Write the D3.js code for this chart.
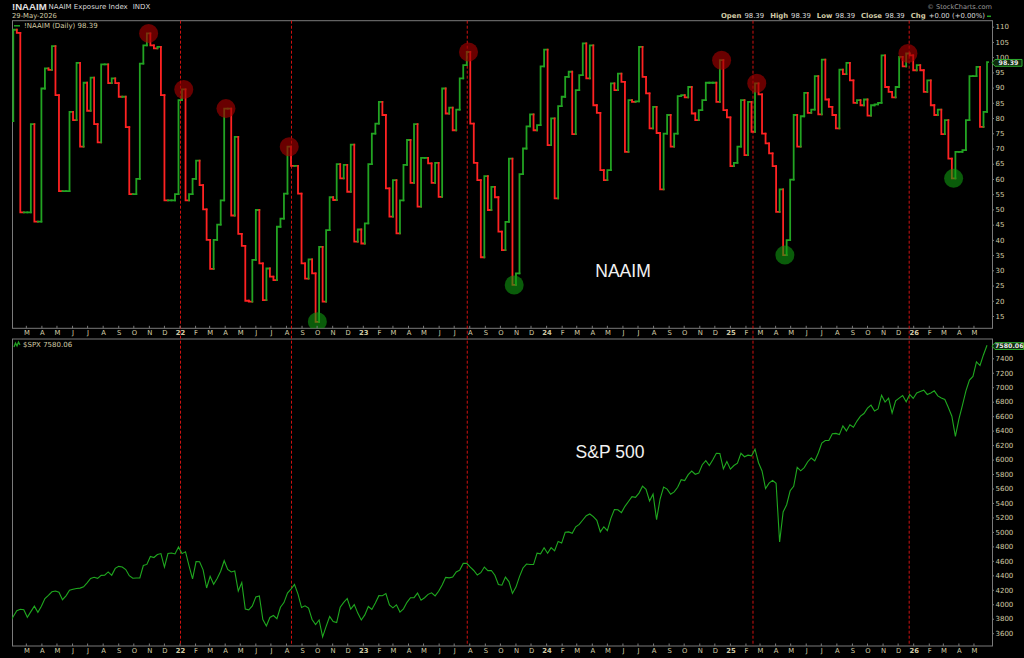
<!DOCTYPE html>
<html><head><meta charset="utf-8">
<script src="https://cdn.jsdelivr.net/npm/d3@7"></script>
<style>body{margin:0;background:#000;}svg{display:block;font-family:"DejaVu Sans",sans-serif;}</style>
</head><body>
<svg id="c" width="1024" height="658"></svg>
<script>
// ---------- DATA ----------
const firstWeek = "2021-01-27";          // weekly observations (Wednesdays)
const lastDay = "2026-05-29";
const naaim = [
79,109,108,49,49,49,78,46,46,89.7,96.3,95.8,103.6,87.5,56,56,56,82,79.3,98.1,
70.6,91.6,82.4,93.3,78,72,97.6,97.6,91.5,93,91.5,87,87,77,55,55,60,97.9,103.9,107.8,
103.9,102.9,103.4,87.5,53,53,53,55,85.9,89.4,53,55,60,66,58,50,40,30.5,40,45,
53,83.1,83.1,48,73.8,42,38,20,19.7,33.4,49.8,32.3,20.2,30.6,27.9,26.8,44.3,47,55.2,70.6,
64.3,64.3,55.2,32.3,27.3,33.6,29,13.1,37.7,19.7,43.2,54,53.1,64.9,60.2,64.6,55.8,71.3,39.4,43.4,
38.8,45.4,64.9,74.9,78.2,85.3,81,56.9,47.6,59.6,42.1,53,64.6,72.8,58.7,78,50.9,66.9,66.9,65.1,
58.7,65.3,54.1,89.7,81.5,83.4,76,82.8,93,97.4,101.7,78.2,65.3,59.6,34.3,60.9,49.8,57.4,54,42.7,
36.6,45.9,66.7,25.2,29,61.6,70,77.3,81.2,76,77.7,97,102.5,71.1,79.9,53.6,83.9,87,93.5,95.2,
74.7,89.2,94.1,104.5,93,103.9,84.2,81.7,62.9,59.6,62.9,91.4,89.2,94.6,91.9,68.9,85.9,85.3,85.5,103.4,
93.5,88.1,76.6,83.7,75.1,56.6,74.9,81,70.6,74.9,87.2,87.5,86.8,90.2,81.5,79.3,82.6,85.9,91.6,91.6,
91.6,85.3,99,82.6,80.2,64.2,65.3,70.6,85.9,67.8,85.3,75.5,91.4,87.8,74.9,71.7,68.4,64.2,49.2,56.6,
35,39.9,59.8,81,70.6,80.6,88.3,81.7,82.8,93.8,81.2,99.2,86.1,83.7,81,76.6,95.9,94.4,98.1,92.4,
85,85.9,84.2,86.1,80.8,84.2,84.5,85,100.6,90.2,88.6,86.8,90.2,100.1,97,101.2,100.6,95.7,97.4,95.7,
88.6,92.4,84.2,81,82.8,74.7,79.3,66.7,60.2,68.9,68.9,69.5,79.3,93.8,93.8,96.8,77.1,82,98.39
];
const spx = [
3750,3830,3910,3931,3925,3820,3898,3974,3889,3973,4080,4124,4173,4183,4167,4063,4116,4195,4208,4219,
4223,4241,4297,4358,4374,4358,4400,4402,4447,4400,4496,4524,4514,4480,4395,4359,4363,4364,4536,4551,
4660,4646,4688,4701,4513,4701,4709,4696,4793,
4700,4726,4532,4350,4589,4587,4475,4225,4386,4277,4357,4456,4602,4481,4446,4459,4183,4300,3935,3923,
3978,4101,4115,3789,3700,3818,3845,3801,3959,4023,4155,4210,4274,4140,3955,3979,3946,3789,3719,3783,
3550,3695,3831,3760,3748,3959,4027,4080,3933,3995,3878,3783,
3853,3969,3928,4016,4119,4117,4147,3991,3951,3992,3892,3937,4027,4090,4092,4154,4055,4090,4137,4158,
4115,4179,4267,4372,4365,4376,4446,4472,4565,4566,4513,4467,4404,4436,4514,4465,4467,4402,4274,4263,
4376,4314,4150,4237,4382,4502,4556,4550,4549,4707,4698,4781,
4705,4783,4739,4869,4846,4995,5000,4982,5070,5105,5165,5225,5248,5211,5161,5000,5071,5018,5187,5308,
5307,5267,5354,5421,5487,5478,5537,5633,5588,5427,5522,5170,5455,5620,5592,5520,5554,5618,5722,5709,
5792,5842,5797,5813,5929,5985,5917,5998,6086,6084,5872,5974,
5868,5918,5950,6086,6039,6061,6051,6144,5956,5842,5599,5675,5712,5671,4860,5275,5376,5569,5631,5892,
5845,5889,5970,6022,5981,6092,6227,6263,6264,6358,6362,6345,6466,6396,6481,6448,6532,6600,6637,6711,
6753,6671,6699,6890,6796,6850,6642,6812,6850,6886,6800,6900,6845,
6920,6940,6960,6900,6920,6950,6880,6850,6830,6720,6600,6320,6560,6750,6950,7100,7150,7350,7300,7450,
7580.06
];
const naaimTicks = [15,20,25,30,35,40,45,50,55,60,65,70,75,80,85,90,95,100,105,110];
const spxTicks = [3600,3800,4000,4200,4400,4600,4800,5000,5200,5400,5600,5800,6000,6200,6400,6600,6800,7000,7200,7400];
const monthLetters = ["J","F","M","A","M","J","J","A","S","O","N","D"];
const peakDates = ["2021-10-27","2022-01-05","2022-03-30","2022-08-03","2023-07-26","2024-12-11","2025-02-19","2025-12-17"];
const troughDates = ["2022-09-28","2023-10-25","2025-04-16","2026-03-18"];
const markerLines = ["2022-01-02","2022-08-11","2023-07-27","2025-02-15","2025-12-23"];
const naaimLast = 98.39, spxLast = 7580.06;

// ---------- SETUP ----------
const svg = d3.select("#c");
const W = 1024, H = 658;
const pL = 12, pR = 992;
const top1 = 20.7, bot1 = 328.3, top2 = 339, bot2 = 646;
const parse = d3.timeParse("%Y-%m-%d");
const start = parse(firstWeek), endD = parse(lastDay);
const dates = naaim.map((_, i) => d3.timeWeek.offset(start, i));
const x = d3.scaleTime().domain([new Date(2022,0,1), new Date(2026,0,1)]).range([180, 913.7]);
const yN = d3.scaleLinear().domain([15,110]).range([316, 26.7]);
const yS = d3.scaleLinear().domain([3600,7400]).range([633.2, 358.3]);
const txt = "#d2cba6", frame = "#7a7a7a", GREEN = "#22a322", RED = "#ff2222";

svg.append("rect").attr("width",W).attr("height",H).attr("fill","#000");
const defs = svg.append("defs");
defs.append("clipPath").attr("id","c1").append("rect").attr("x",pL).attr("y",top1).attr("width",pR-pL).attr("height",bot1-top1);
defs.append("clipPath").attr("id","c2").append("rect").attr("x",pL).attr("y",top2).attr("width",pR-pL).attr("height",bot2-top2);

// ---------- HEADER ----------
svg.append("text").attr("x",12).attr("y",9.8).attr("font-size",9.6).attr("font-weight","bold")
  .attr("font-family","Liberation Sans, Arial, sans-serif").attr("fill","#e2e2e2").text("!NAAIM");
svg.append("text").attr("x",48.5).attr("y",9.4).attr("font-size",7).attr("fill","#dadada").text("NAAIM Exposure Index").append("tspan").attr("dx",5).text("INDX");
svg.append("text").attr("x",12).attr("y",18).attr("font-size",6.8).attr("fill",txt).text("29-May-2026");
svg.append("text").attr("x",992).attr("y",9).attr("text-anchor","end").attr("font-size",6.6).attr("fill","#9a9a9a").text("© StockCharts.com");
const ohlc = svg.append("text").attr("x",985).attr("y",18).attr("text-anchor","end").attr("font-size",6.9);
[["Open","98.39"],["High","98.39"],["Low","98.39"],["Close","98.39"],["Chg","+0.00 (+0.00%)"]].forEach((p,i)=>{
  ohlc.append("tspan").attr("font-weight","bold").attr("fill",txt).attr("dx", i? 6:0).text(p[0]);
  ohlc.append("tspan").attr("fill","#d8d8d8").attr("dx",3).text(p[1]);
});
svg.append("line").attr("x1",987).attr("x2",991).attr("y1",16.3).attr("y2",16.3).attr("stroke",GREEN).attr("stroke-width",1.5);

// ---------- FRAMES ----------
[[top1,bot1],[top2,bot2]].forEach(([a,b])=>{
  svg.append("rect").attr("x",pL+0.5).attr("y",a).attr("width",pR-pL).attr("height",b-a)
    .attr("fill","none").attr("stroke",frame).attr("stroke-width",1);
});

// ---------- RED DASHED MARKER LINES ----------
svg.append("g").selectAll("line").data(markerLines).join("line")
  .attr("x1",d=>x(parse(d))).attr("x2",d=>x(parse(d)))
  .attr("y1",top1).attr("y2",bot2)
  .attr("stroke","#d01010").attr("stroke-width",1).attr("stroke-dasharray","3,2");

// ---------- NAAIM STEP LINE ----------
const g1 = svg.append("g").attr("clip-path","url(#c1)");
naaim.forEach((v,i)=>{
  const x0 = x(dates[i]);
  const x1 = i < naaim.length-1 ? x(dates[i+1]) : x(endD);
  const up = i===0 || v >= naaim[i-1];
  const p = d3.path();
  if (i===0) p.moveTo(x0, yN(v)); else { p.moveTo(x0, yN(naaim[i-1])); p.lineTo(x0, yN(v)); }
  p.lineTo(x1, yN(v));
  g1.append("path").attr("d",p.toString()).attr("fill","none")
    .attr("stroke", up?GREEN:RED).attr("stroke-width",1.8).attr("stroke-linecap","square");
});
const idx = s => { const t = parse(s).getTime(); return dates.findIndex(d=>d.getTime()===t); };
const halfWeek = d => d3.timeHour.offset(d, 84);
g1.selectAll("circle.pk").data(peakDates).join("circle")
  .attr("cx",d=>x(halfWeek(parse(d)))).attr("cy",d=>yN(naaim[idx(d)]))
  .attr("r",9.5).attr("fill","#a00000").attr("fill-opacity",0.66);
g1.selectAll("circle.tr").data(troughDates).join("circle")
  .attr("cx",d=>x(halfWeek(parse(d)))).attr("cy",d=>yN(naaim[idx(d)]))
  .attr("r",9.5).attr("fill","#109a10").attr("fill-opacity",0.6);

// ---------- SPX LINE ----------
const g2 = svg.append("g").attr("clip-path","url(#c2)");
g2.append("path").datum(spx).attr("fill","none").attr("stroke","#1fa81f").attr("stroke-width",1.1)
  .attr("d", d3.line().x((d,i)=>x(dates[i])).y(d=>yS(d)));

// ---------- LEGENDS & TITLES ----------
svg.append("line").attr("x1",14).attr("x2",20).attr("y1",25.8).attr("y2",25.8).attr("stroke",GREEN).attr("stroke-width",1.5);
svg.append("text").attr("x",24).attr("y",28.2).attr("font-size",7).attr("fill",txt).text("!NAAIM (Daily) " + naaimLast.toFixed(2));
svg.append("path").attr("d","M14,347 L15.5,343 L17,346 L18.5,342 L20,345").attr("fill","none").attr("stroke",GREEN).attr("stroke-width",1.3);
svg.append("text").attr("x",23).attr("y",347).attr("font-size",7).attr("fill",txt).text("$SPX " + spxLast.toFixed(2));
svg.append("text").attr("x",623).attr("y",277).attr("text-anchor","middle").attr("font-family","Liberation Sans, Arial, sans-serif").attr("font-size",17.5).attr("fill","#f2f2f2").text("NAAIM");
svg.append("text").attr("x",610).attr("y",458).attr("text-anchor","middle").attr("font-family","Liberation Sans, Arial, sans-serif").attr("font-size",17.5).attr("fill","#f2f2f2").text("S&P 500");

// ---------- RIGHT AXES ----------
function styleAxis(sel){
  sel.select(".domain").remove();
  sel.selectAll(".tick line").attr("stroke",frame);
  sel.selectAll(".tick text").attr("fill",txt).attr("font-size",7).attr("font-family","DejaVu Sans, sans-serif");
}
svg.append("g").attr("transform",`translate(${pR},0)`)
  .call(d3.axisRight(yN).tickValues(naaimTicks).tickSize(2).tickPadding(1.5)).call(styleAxis);
svg.append("g").attr("transform",`translate(${pR},0)`)
  .call(d3.axisRight(yS).tickValues(spxTicks).tickSize(2).tickPadding(1.5).tickFormat(d3.format("d"))).call(styleAxis);

// price tags
function tag(yv, label, w){
  const gy = yv + 0.8;
  svg.append("path").attr("d",`M${pR},${gy} L${pR+3},${gy-3.4} H${pR+3+w} V${gy+3.4} H${pR+3} Z`)
    .attr("fill","#0e2a0e").attr("stroke","#2fae2f").attr("stroke-width",1);
  svg.append("text").attr("x",pR+3+w/2).attr("y",gy+2.2).attr("text-anchor","middle").attr("font-size",6.3).attr("font-weight","bold").attr("fill","#e6e6e6").text(label);
}
tag(yN(naaimLast), naaimLast.toFixed(2), 27);
tag(yS(spxLast), spxLast.toFixed(2), 28.5);

// ---------- BOTTOM (DATE) AXES ----------
const months = d3.timeMonth.range(new Date(2021,2,1), new Date(2026,5,1));
const fmtMonth = d => d.getMonth()===0 ? d3.timeFormat("%y")(d) : monthLetters[d.getMonth()];
[[bot1, 336.4],[bot2, 654.6]].forEach(([by, ty])=>{
  const ax = svg.append("g").attr("transform",`translate(0,${ty-6.3})`)
    .call(d3.axisBottom(x).tickValues(months).tickSize(0).tickPadding(0).tickFormat(fmtMonth));
  ax.select(".domain").remove();
  ax.selectAll(".tick text").attr("fill",txt).attr("font-size",6.8).attr("font-family","DejaVu Sans, sans-serif")
    .attr("font-weight",d=>d.getMonth()===0?"bold":"normal").attr("dy","0.71em");
  svg.append("g").selectAll("line").data(months).join("line")
    .attr("x1",d=>x(d)).attr("x2",d=>x(d)).attr("y1",by-2.5).attr("y2",by).attr("stroke",frame);
});
</script>
</body></html>
